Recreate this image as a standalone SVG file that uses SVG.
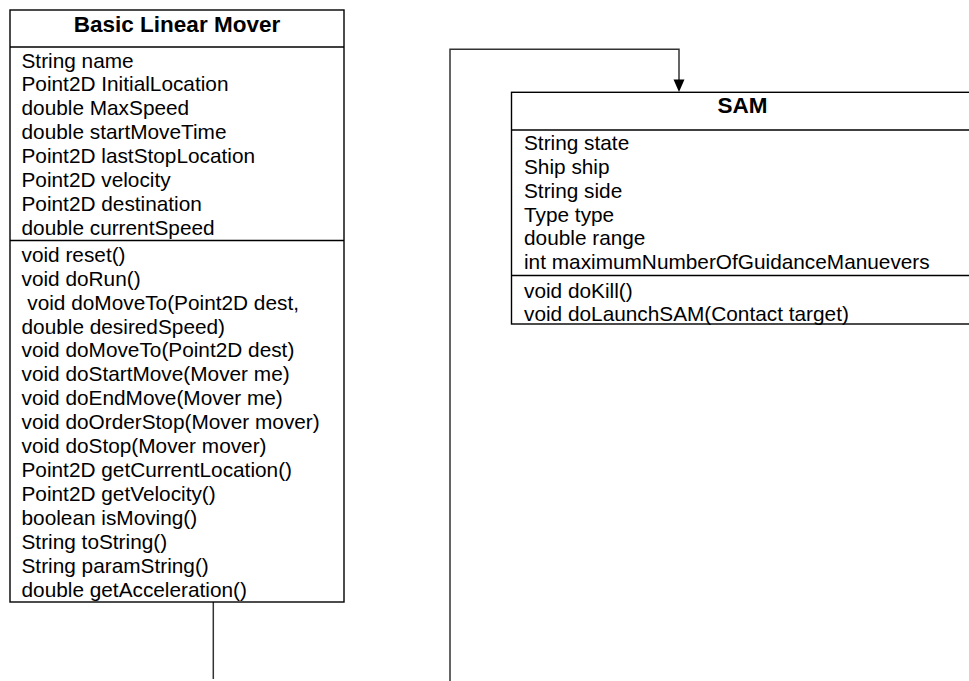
<svg xmlns="http://www.w3.org/2000/svg" width="969" height="681" viewBox="0 0 969 681">
<style>
.box{fill:#fff;stroke:#000;stroke-width:1.4}
.div{stroke:#000;stroke-width:1.4}
.t{font-family:"Liberation Sans",Arial,sans-serif;font-size:20.8px;fill:#000}
.h{font-family:"Liberation Sans",Arial,sans-serif;font-size:22.5px;font-weight:bold;fill:#000;text-anchor:middle}
.c{fill:none;stroke:#333;stroke-width:1.5}
</style>
<rect width="969" height="681" fill="#fff"/>
<g id="connectors">
<line class="c" x1="213.3" y1="602" x2="213.3" y2="679"/>
<path class="c" d="M450,681 L450,49.3 L679,49.3 L679,80"/>
<path d="M673.5,79.5 L684.5,79.5 L679,92 Z" fill="#000"/>
</g>
<g id="basic-linear-mover">
<rect class="box" x="10" y="10" width="334" height="592"/>
<line class="div" x1="10" y1="47" x2="344" y2="47"/>
<line class="div" x1="10" y1="240.5" x2="344" y2="240.5"/>
<text class="h" x="177" y="31.5">Basic Linear Mover</text>
<text class="t" x="21.5" y="67.5">String name</text>
<text class="t" x="21.5" y="91.4">Point2D InitialLocation</text>
<text class="t" x="21.5" y="115.4">double MaxSpeed</text>
<text class="t" x="21.5" y="139.3">double startMoveTime</text>
<text class="t" x="21.5" y="163.2">Point2D lastStopLocation</text>
<text class="t" x="21.5" y="187.2">Point2D velocity</text>
<text class="t" x="21.5" y="211.1">Point2D destination</text>
<text class="t" x="21.5" y="235">double currentSpeed</text>
<text class="t" x="21.5" y="261.7">void reset()</text>
<text class="t" x="21.5" y="285.6">void doRun()</text>
<text class="t" x="21.5" y="309.6" xml:space="preserve"> void doMoveTo(Point2D dest,</text>
<text class="t" x="21.5" y="333.5">double desiredSpeed)</text>
<text class="t" x="21.5" y="357.4">void doMoveTo(Point2D dest)</text>
<text class="t" x="21.5" y="381.3">void doStartMove(Mover me)</text>
<text class="t" x="21.5" y="405.3">void doEndMove(Mover me)</text>
<text class="t" x="21.5" y="429.2">void doOrderStop(Mover mover)</text>
<text class="t" x="21.5" y="453.1">void doStop(Mover mover)</text>
<text class="t" x="21.5" y="477">Point2D getCurrentLocation()</text>
<text class="t" x="21.5" y="501">Point2D getVelocity()</text>
<text class="t" x="21.5" y="524.9">boolean isMoving()</text>
<text class="t" x="21.5" y="548.8">String toString()</text>
<text class="t" x="21.5" y="572.8">String paramString()</text>
<text class="t" x="21.5" y="596.7">double getAcceleration()</text>
</g>
<g id="sam">
<rect class="box" x="511.5" y="92.3" width="463" height="231.7"/>
<line class="div" x1="511.5" y1="130" x2="975" y2="130"/>
<line class="div" x1="511.5" y1="275.5" x2="975" y2="275.5"/>
<text class="h" x="742.5" y="113.3">SAM</text>
<text class="t" x="524" y="150">String state</text>
<text class="t" x="524" y="174">Ship ship</text>
<text class="t" x="524" y="197.5">String side</text>
<text class="t" x="524" y="221.5">Type type</text>
<text class="t" x="524" y="245.3">double range</text>
<text class="t" x="524" y="269.3">int maximumNumberOfGuidanceManuevers</text>
<text class="t" x="524" y="297.5">void doKill()</text>
<text class="t" x="524" y="320.5">void doLaunchSAM(Contact target)</text>
</g>
</svg>
